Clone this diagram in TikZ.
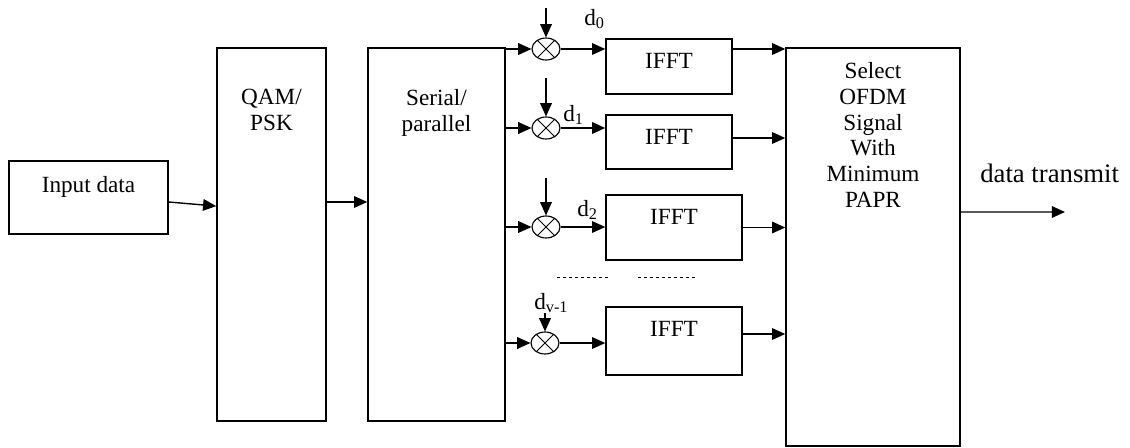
\documentclass[tikz,border=0pt]{standalone}
\usepackage{fontspec}
\setmainfont{Liberation Serif}
\usepackage{tikz}
\usetikzlibrary{shapes.geometric, arrows.meta, positioning, calc}

\begin{document}
\begin{tikzpicture}[
  x=0.025cm, y=-0.025cm,
  blk/.style={rectangle, draw, line width=1pt, inner sep=0pt},
  ttl/.style={anchor=north, align=center, inner sep=0pt, font=\fontsize{16.5}{18.3}\selectfont},
  mul/.style={ellipse, draw, line width=0.8pt, inner sep=0pt, minimum width=0.7cm, minimum height=0.55cm},
  sub/.style={anchor=base west, inner sep=0pt, font=\fontsize{16.5}{18.3}\selectfont},
  arr/.style={-{Triangle[length=0.33cm, width=0.29cm]}, line width=1pt},
  dots/.style={dash pattern=on 0.08cm off 0.07cm, line width=0.5pt},
]
  \useasboundingbox (0,0) rectangle (1130,447);

  \node[blk, minimum width=3.975cm, minimum height=1.825cm,
        label={[ttl, yshift=-0.4cm]north:Input data}] (in) at (88.5,197.5) {};
  \node[blk, minimum width=2.725cm, minimum height=9.325cm,
        label={[ttl, yshift=-1.05cm]north:{QAM/\\PSK}}] (qam) at (271.5,234.5) {};
  \node[blk, minimum width=3.425cm, minimum height=9.325cm,
        label={[ttl, yshift=-1.05cm]north:{Serial/\\parallel}}] (sp) at (436.5,234.5) {};
  \node[blk, minimum width=4.35cm, minimum height=9.95cm,
        label={[ttl, yshift=-0.375cm]north:{Select\\OFDM\\Signal\\With\\Minimum\\PAPR}}] (sel) at (873,247) {};

  \node[blk, minimum width=3.15cm, minimum height=1.375cm,
        label={[ttl, yshift=-0.36cm]north:IFFT}] (f0) at (669,66.5) {};
  \node[blk, minimum width=3.15cm, minimum height=1.35cm,
        label={[ttl, yshift=-0.36cm]north:IFFT}] (f1) at (669,142) {};
  \node[blk, minimum width=3.4cm, minimum height=1.625cm,
        label={[ttl, yshift=-0.36cm]north:IFFT}] (f2) at (674,227.5) {};
  \node[blk, minimum width=3.4cm, minimum height=1.7cm,
        label={[ttl, yshift=-0.36cm]north:IFFT}] (f3) at (674,341) {};

  \node[mul] (m0) at (546,49) {};
  \node[mul] (m1) at (546,128) {};
  \node[mul] (m2) at (546,227) {};
  \node[mul] (m3) at (545,343) {};
  \draw[line width=0.7pt] (m0.45) -- (m0.225) (m0.135) -- (m0.315);
  \draw[line width=0.7pt] (m1.45) -- (m1.225) (m1.135) -- (m1.315);
  \draw[line width=0.7pt] (m2.45) -- (m2.225) (m2.135) -- (m2.315);
  \draw[line width=0.7pt] (m3.45) -- (m3.225) (m3.135) -- (m3.315);

  \coordinate (t0) at (546,8);
  \coordinate (t1) at (546,78);
  \coordinate (t2) at (546,178);
  \coordinate (t3) at (545,313);
  \coordinate (tx) at (1065,212);

  \node[sub] (d0) at (584,25) {d\textsubscript{0}};
  \node[sub] (d1) at (563,121) {d\textsubscript{1}};
  \node[sub] (d2) at (577,216) {d\textsubscript{2}};
  \node[sub] (dv) at (534,309) {d\textsubscript{v-1}};
  \node[anchor=base west, inner sep=0pt, font=\fontsize{19}{22}\selectfont] (dt) at (980,182) {data transmit};

  \draw[arr] ([yshift=-0.1125cm]in.east) -- ([yshift=0.71cm]qam.west);
  \draw[arr] ([yshift=0.8125cm]qam.east) -- ([yshift=0.8125cm]qam.east -| sp.west);

  \draw[arr] (sp.east |- m0.west) -- (m0.west);
  \draw[arr] (sp.east |- m1.west) -- (m1.west);
  \draw[arr] (sp.east |- m2.west) -- (m2.west);
  \draw[arr] (sp.east |- m3.west) -- (m3.west);

  \draw[arr] (t0) -- (m0.north);
  \draw[arr] (t1) -- (m1.north);
  \draw[arr] (t2) -- (m2.north);
  \draw[arr] (t3) -- (m3.north);

  \draw[arr] (m0.east) -- (f0.west |- m0.east);
  \draw[arr] (m1.east) -- (f1.west |- m1.east);
  \draw[arr] (m2.east) -- (f2.west |- m2.east);
  \draw[arr] (m3.east) -- (f3.west |- m3.east);

  \draw[arr] (f0.east |- m0.east) -- (sel.west |- m0.east);
  \draw[arr] ([yshift=0.1cm]f1.east) -- ([yshift=0.1cm]f1.east -| sel.west);
  \draw[arr] (f2.east) -- (f2.east -| sel.west);
  \draw[arr] ([yshift=0.175cm]f3.east) -- ([yshift=0.175cm]f3.east -| sel.west);

  \draw[arr] ([yshift=0.875cm]sel.east) -- (tx);

  \draw[dots] (557,277) -- (610,277);
  \draw[dots] (638,277) -- (698,277);
\end{tikzpicture}
\end{document}
